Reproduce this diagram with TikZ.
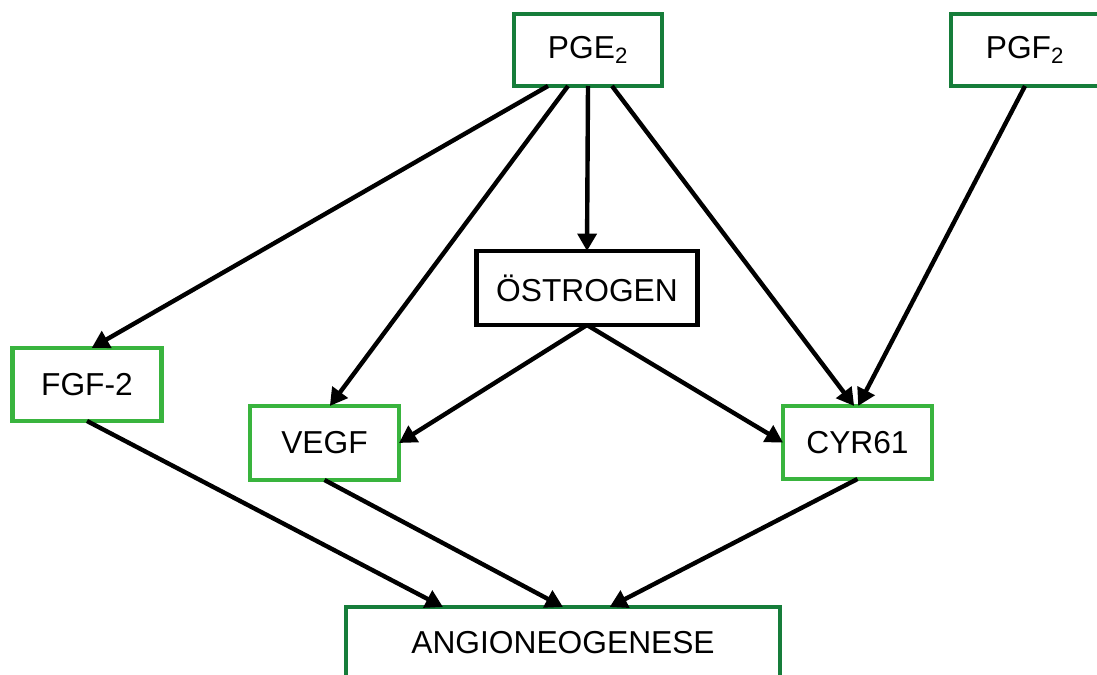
\documentclass[tikz,border=0pt]{standalone}
\usepackage{fontspec}
\setmainfont{Liberation Sans}
\usetikzlibrary{arrows.meta}
\definecolor{dkgreen}{RGB}{22,125,58}
\definecolor{ltgreen}{RGB}{57,180,62}
\tikzset{
  box/.style={draw, line width=3.3pt, inner sep=0pt, outer sep=0pt, fill=white,
    font=\fontsize{23.8}{28}\selectfont},
  dkbox/.style={box, draw=dkgreen},
  ltbox/.style={box, draw=ltgreen},
  bkbox/.style={box, draw=black},
  conn/.style={line width=3.3pt, -{Triangle[length=13pt,width=14pt]}},
}
\begin{document}
\begin{tikzpicture}[x=0.75pt,y=-0.75pt]
\clip (0,0) rectangle (1097,675);
\useasboundingbox (0,0) rectangle (1097,675);
\fill[white] (0,0) rectangle (1097,675);
\node[dkbox, minimum width=111pt, minimum height=54pt] (pge) at (588,50) {PGE\textsubscript{2}};
\node[dkbox, minimum width=111pt, minimum height=54pt] (pgf) at (1025,50) {PGF\textsubscript{2}};
\node[bkbox, minimum width=166pt, minimum height=55.5pt] (oest) at (587,288) {ÖSTROGEN};
\node[ltbox, minimum width=111.75pt, minimum height=54.75pt] (fgf) at (87,384.5) {FGF-2};
\node[ltbox, minimum width=111.75pt, minimum height=55.5pt] (vegf) at (324.5,443) {VEGF};
\node[ltbox, minimum width=111.75pt, minimum height=54.75pt] (cyr) at (857.5,442.5) {CYR61};
\node[dkbox, minimum width=325.5pt, minimum height=54pt] (ang) at (563,643) {ANGIONEOGENESE};

\draw[conn] ([xshift=-30pt]pge.south) -- ([xshift=3.5pt]fgf.north);
\draw[conn] ([xshift=-15pt]pge.south) -- ([xshift=4pt]vegf.north);
\draw[conn] (pge.south) -- (oest.north);
\draw[conn] ([xshift=18pt]pge.south) -- ([xshift=-2.5pt]cyr.north);
\draw[conn] (pgf.south) -- ([xshift=0.5pt]cyr.north);
\draw[conn] (oest.south) -- (vegf.east);
\draw[conn] (oest.south) -- (cyr.west);
\draw[conn] (fgf.south) -- ([xshift=-90pt]ang.north);
\draw[conn] (vegf.south) -- (ang.north);
\draw[conn] (cyr.south) -- ([xshift=35pt]ang.north);
\end{tikzpicture}
\end{document}
